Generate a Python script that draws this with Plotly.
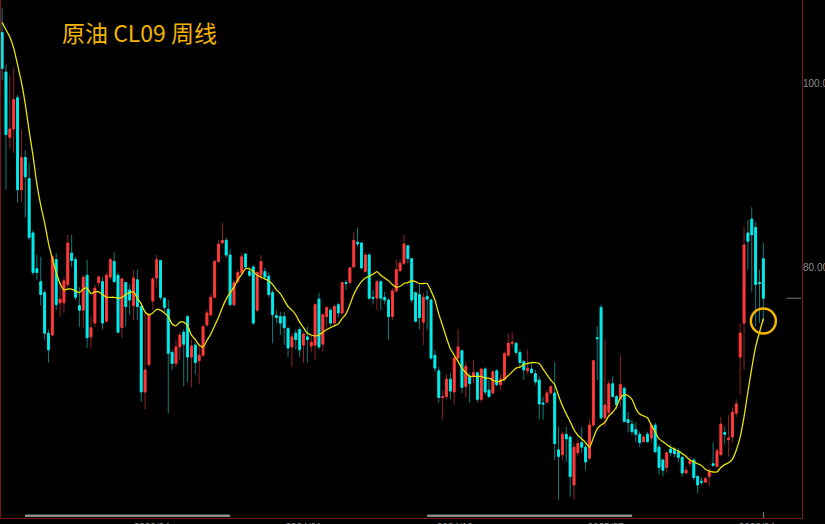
import pandas as pd
import plotly.graph_objects as go

# weekly bars, CL09 continuous
dates = pd.date_range("2022-07-04", periods=198, freq="7D")

opens = [
    105.6, 101.3, 94.2, 95.1, 98.5, 88.5, 92.0, 89.7, 83.8, 79.9,
    78.5, 77.3, 72.9, 72.7, 80.9, 76.2, 76.2, 78.2, 81.6, 80.9,
    75.9, 75.4, 79.2, 72.5, 74.0, 78.4, 78.5, 74.2, 79.0, 80.7,
    79.2, 73.5, 78.4, 77.6, 75.9, 78.7, 75.8, 66.5, 69.5, 76.4,
    78.9, 80.8, 76.7, 75.5, 70.8, 69.6, 71.4, 73.0, 74.7, 70.3,
    71.6, 69.9, 70.5, 73.8, 74.9, 76.8, 80.7, 82.7, 83.0, 81.4,
    76.0, 78.5, 79.5, 81.5, 79.6, 80.1, 75.4, 79.2, 79.6, 79.1,
    77.3, 74.8, 74.7, 74.7, 73.4, 71.4, 72.9, 73.3, 71.6, 72.5,
    71.5, 71.6, 76.6, 71.7, 74.7, 75.4, 74.0, 76.0, 75.1, 78.4,
    78.4, 80.1, 82.8, 82.7, 79.6, 81.4, 76.8, 76.7, 78.5, 76.8,
    76.5, 74.7, 77.5, 79.7, 80.5, 82.4, 81.0, 77.3, 77.1, 74.1,
    76.9, 76.5, 70.5, 68.8, 65.9, 66.0, 67.9, 66.5, 70.2, 71.0,
    67.1, 68.2, 68.2, 68.6, 65.7, 69.0, 66.7, 66.4, 68.8, 67.3,
    67.9, 70.5, 71.8, 71.8, 70.8, 69.8, 68.8, 69.0, 68.5, 67.8,
    65.3, 65.4, 66.4, 66.4, 60.2, 59.7, 61.9, 61.6, 56.4, 59.9,
    61.0, 60.5, 59.3, 62.9, 72.4, 75.7, 63.7, 64.3, 67.4, 66.0,
    65.7, 66.9, 63.5, 63.0, 62.4, 61.9, 61.1, 61.9, 61.5, 62.9,
    60.5, 59.1, 58.3, 60.3, 60.3, 60.0, 59.4, 57.7, 58.7, 59.1,
    57.3, 56.8, 56.7, 57.3, 58.7, 58.4, 59.7, 62.1, 61.3, 61.6,
    64.2, 70.3, 74.0, 83.8, 85.3, 84.4, 78.4, 81.0,
]
highs = [
    108.3, 102.1, 101.0, 101.8, 98.8, 95.0, 92.8, 91.4, 84.1, 81.4,
    81.2, 77.6, 73.3, 81.4, 81.6, 78.4, 79.0, 83.6, 83.6, 81.2,
    77.9, 79.2, 80.9, 74.7, 78.2, 79.2, 79.0, 79.5, 81.1, 81.7,
    79.5, 79.0, 78.5, 78.2, 79.8, 79.8, 76.2, 75.1, 75.1, 79.0,
    81.4, 80.9, 76.8, 76.5, 71.1, 72.2, 73.0, 73.3, 74.9, 72.2,
    71.8, 71.8, 73.8, 75.4, 77.1, 80.9, 83.0, 84.9, 83.3, 82.0,
    78.7, 79.8, 81.6, 81.6, 80.1, 80.3, 79.6, 81.4, 80.0, 79.5,
    77.6, 75.4, 75.2, 75.2, 73.6, 72.9, 73.3, 73.6, 73.0, 73.6,
    72.7, 76.2, 77.3, 75.1, 75.8, 75.6, 76.0, 76.2, 78.5, 78.7,
    80.1, 83.9, 84.4, 82.8, 81.6, 81.6, 77.6, 78.7, 78.7, 77.4,
    76.7, 77.8, 80.9, 80.9, 83.6, 82.5, 81.1, 77.4, 78.2, 77.3,
    77.6, 76.7, 71.1, 69.2, 66.7, 68.4, 68.6, 70.5, 73.3, 71.1,
    69.8, 68.6, 70.0, 68.7, 69.1, 69.2, 67.8, 68.9, 69.0, 68.4,
    70.9, 72.9, 73.0, 71.9, 71.1, 70.0, 71.1, 69.8, 68.9, 68.2,
    66.0, 66.7, 67.2, 69.7, 62.7, 62.2, 62.7, 61.8, 61.0, 61.3,
    62.7, 61.0, 63.5, 70.0, 73.6, 76.0, 72.2, 67.8, 68.2, 66.2,
    70.5, 67.1, 64.3, 63.5, 63.2, 62.2, 61.8, 62.2, 63.2, 63.2,
    60.8, 59.3, 60.0, 60.8, 60.5, 60.4, 59.5, 58.4, 59.5, 59.3,
    57.5, 57.2, 57.3, 58.3, 61.0, 60.4, 63.8, 62.7, 64.0, 64.8,
    65.7, 74.0, 84.5, 85.2, 86.6, 85.0, 79.8, 82.7,
]
lows = [
    100.4, 88.5, 93.0, 92.5, 87.1, 87.2, 85.5, 83.0, 79.2, 78.7,
    75.9, 72.2, 69.7, 72.5, 75.4, 74.7, 75.1, 77.9, 80.1, 76.5,
    73.6, 73.5, 71.3, 71.3, 73.6, 77.9, 73.3, 74.1, 78.7, 78.4,
    72.9, 72.4, 73.6, 74.9, 74.3, 74.3, 65.4, 64.6, 69.2, 75.4,
    77.9, 76.5, 75.2, 64.2, 68.9, 69.2, 70.0, 67.1, 67.6, 67.0,
    68.4, 67.3, 70.3, 73.6, 74.7, 76.7, 80.5, 82.7, 81.1, 75.8,
    75.8, 78.4, 79.2, 79.8, 79.0, 73.8, 75.2, 78.7, 78.7, 76.8,
    71.8, 74.0, 72.7, 71.6, 70.3, 69.2, 71.1, 70.3, 69.7, 69.7,
    70.8, 70.0, 71.1, 70.9, 73.6, 73.6, 73.6, 74.6, 74.9, 77.6,
    78.2, 80.0, 82.3, 79.8, 79.5, 76.5, 76.0, 75.4, 75.4, 76.0,
    72.2, 74.3, 77.3, 79.5, 80.3, 80.5, 76.2, 74.1, 73.3, 71.6,
    73.3, 70.0, 68.7, 65.3, 63.5, 65.7, 65.7, 65.1, 69.8, 66.4,
    65.9, 65.3, 67.5, 65.4, 65.4, 66.2, 65.9, 66.2, 67.1, 66.7,
    67.6, 70.3, 71.4, 70.5, 69.1, 67.8, 68.4, 68.5, 67.3, 63.5,
    63.5, 65.3, 66.2, 59.1, 54.8, 59.1, 58.9, 55.1, 54.8, 59.5,
    59.9, 58.0, 59.1, 62.7, 67.8, 63.5, 62.7, 63.8, 65.9, 64.6,
    64.9, 63.2, 62.1, 61.8, 61.0, 60.5, 61.0, 61.0, 61.0, 59.9,
    57.5, 57.3, 57.7, 59.5, 59.4, 58.9, 57.3, 57.5, 58.4, 56.9,
    55.5, 56.4, 56.6, 56.2, 58.4, 58.3, 59.5, 60.8, 59.5, 61.0,
    63.8, 66.2, 68.9, 79.8, 77.4, 73.6, 74.0, 74.1,
]
closes = [
    101.7, 94.5, 95.1, 98.3, 88.5, 92.0, 89.9, 83.3, 79.5, 79.5,
    77.1, 72.9, 71.1, 81.2, 76.0, 76.6, 78.6, 82.7, 80.8, 76.8,
    75.4, 79.0, 72.4, 73.5, 77.8, 79.0, 74.0, 79.2, 80.9, 78.5,
    73.0, 78.8, 75.8, 76.5, 78.9, 75.8, 66.5, 68.9, 74.9, 78.8,
    80.9, 76.8, 75.7, 70.7, 69.6, 71.4, 72.7, 71.7, 70.3, 71.5,
    69.7, 70.5, 73.6, 75.1, 76.8, 80.7, 82.6, 83.0, 81.4, 76.0,
    78.4, 79.5, 81.2, 80.1, 79.2, 74.0, 79.5, 80.7, 79.0, 77.1,
    74.9, 74.6, 74.0, 73.5, 71.3, 72.5, 72.2, 71.1, 72.8, 72.2,
    71.9, 76.0, 71.4, 74.9, 75.7, 74.0, 75.8, 75.1, 78.4, 78.3,
    80.0, 83.0, 82.6, 80.0, 81.4, 76.7, 76.7, 78.5, 76.7, 76.5,
    74.7, 77.5, 79.8, 80.5, 82.6, 81.0, 76.5, 74.2, 74.6, 76.8,
    76.6, 70.2, 69.1, 65.9, 66.0, 67.9, 66.6, 70.2, 71.4, 67.0,
    69.3, 67.4, 68.6, 65.7, 69.0, 66.5, 66.0, 68.7, 67.3, 67.9,
    70.7, 71.8, 71.9, 70.8, 69.7, 68.9, 69.1, 68.6, 67.6, 65.2,
    65.2, 66.4, 67.1, 60.9, 59.5, 61.9, 61.4, 57.3, 60.5, 60.9,
    60.5, 58.9, 62.9, 69.9, 72.3, 63.7, 65.1, 67.4, 66.0, 65.1,
    67.3, 63.3, 63.2, 62.2, 61.9, 61.0, 61.6, 61.1, 62.9, 60.0,
    58.3, 58.0, 59.9, 59.9, 59.8, 59.4, 57.7, 58.0, 59.0, 57.2,
    56.4, 56.7, 57.1, 57.8, 58.5, 60.1, 63.0, 61.9, 61.5, 64.3,
    65.2, 72.9, 82.5, 82.9, 83.6, 78.2, 78.3, 76.7,
]
# yellow moving-average line as drawn on the chart
ma_line = [
    106.7, 105.9, 105.1, 103.9, 102.1, 100.2, 97.8, 94.9, 92.2, 89.1,
    86.8, 84.9, 82.7, 81.0, 79.5, 78.3, 77.6, 77.7, 77.7, 77.5,
    77.3, 77.7, 77.8, 77.2, 77.4, 77.4, 77.1, 76.8, 76.8, 76.8,
    76.7, 76.8, 77.1, 77.3, 77.4, 76.7, 76.1, 75.2, 74.9, 75.1,
    75.5, 75.4, 75.1, 74.7, 73.9, 73.7, 74.1, 74.1, 73.7, 72.7,
    72.2, 71.6, 71.4, 72.1, 72.8, 73.7, 74.6, 75.7, 76.6, 77.3,
    77.9, 78.7, 79.3, 79.9, 79.9, 79.6, 79.2, 79.0, 78.8, 78.6,
    78.2, 77.6, 77.2, 76.5, 75.8, 75.4, 74.9, 74.1, 73.5, 72.9,
    72.7, 72.6, 72.7, 73.0, 73.3, 73.5, 73.7, 73.9, 74.5, 75.0,
    76.0, 77.1, 77.9, 78.5, 78.9, 79.1, 79.3, 79.6, 79.2, 78.9,
    78.6, 78.2, 77.9, 78.0, 78.3, 78.4, 78.6, 78.5, 78.3, 78.3,
    78.3, 77.5, 76.5, 75.0, 73.7, 72.4, 71.2, 70.5, 69.8, 69.1,
    68.6, 68.2, 68.2, 68.2, 68.2, 68.0, 68.0, 67.8, 67.6, 67.7,
    67.9, 68.3, 68.7, 69.1, 69.2, 69.5, 69.6, 69.7, 69.7, 69.6,
    69.0, 68.4, 67.8, 67.3, 66.1, 65.0, 64.1, 63.3, 62.4, 61.8,
    61.4, 61.0, 60.5, 61.5, 62.5, 62.9, 63.2, 63.9, 64.3, 64.9,
    65.9, 66.2, 66.1, 65.7, 64.7, 64.1, 63.9, 63.7, 62.9, 62.2,
    61.4, 61.1, 60.8, 60.5, 60.3, 60.1, 59.8, 59.5, 59.1, 58.9,
    58.7, 58.5, 58.1, 57.9, 57.8, 57.8, 58.3, 58.6, 58.8, 59.2,
    60.2, 61.6, 63.8, 66.5, 69.1, 71.4, 73.0, 74.5,
]

UP = '#ff3b3b'
DOWN = '#00eeee'
UP_WICK = '#8e2222'
DOWN_WICK = '#127c7c'
BORDER = '#7a1818'
GREY = '#8a8a8a'

body_hi = [max(o, c) for o, c in zip(opens, closes)]
body_lo = [min(o, c) for o, c in zip(opens, closes)]

fig = go.Figure()

# wicks (dim colour)
fig.add_trace(go.Candlestick(
    x=dates, open=opens, high=highs, low=lows, close=closes,
    increasing=dict(line=dict(color=UP_WICK, width=1), fillcolor=UP_WICK),
    decreasing=dict(line=dict(color=DOWN_WICK, width=1), fillcolor=DOWN_WICK),
    hoverinfo='skip', showlegend=False
))

# bodies (bright colour)
fig.add_trace(go.Candlestick(
    x=dates, open=opens, high=body_hi, low=body_lo, close=closes,
    increasing=dict(line=dict(color=UP, width=0.8), fillcolor=UP),
    decreasing=dict(line=dict(color=DOWN, width=0.8), fillcolor=DOWN),
    hoverinfo='skip', showlegend=False
))

fig.add_trace(go.Scatter(
    x=dates, y=ma_line, mode='lines',
    line=dict(color='#e8e400', width=1.3, shape='spline', smoothing=0.6),
    hoverinfo='skip', showlegend=False
))

shapes = [
    # circle marking the latest MA value
    dict(type='circle', xref='x', yref='y', xsizemode='pixel', ysizemode='pixel',
         xanchor=dates[-1], yanchor=ma_line[-1],
         x0=-12.5, x1=12.5, y0=-15, y1=10,
         line=dict(color='#f2b400', width=2.5)),
    # last price marker on the price scale
    dict(type='line', xref='paper', yref='y', x0=0.981, x1=0.999,
         y0=closes[-1], y1=closes[-1], line=dict(color='#7c7c7c', width=1)),
    # scroll bar segments
    dict(type='line', xref='paper', yref='paper', x0=0.030, x1=0.286, y0=0.0045, y1=0.0045,
         line=dict(color='#8c8c8c', width=2.5)),
    dict(type='line', xref='paper', yref='paper', x0=0.532, x1=0.788, y0=0.0045, y1=0.0045,
         line=dict(color='#8c8c8c', width=2.5)),
    dict(type='line', xref='x', yref='paper', x0=dates[-1], x1=dates[-1], y0=0, y1=0.012,
         line=dict(color='#8c8c8c', width=1)),
]

fig.update_layout(
    width=825,
    height=524,
    margin=dict(l=1, r=23, t=0, b=6, pad=0),
    paper_bgcolor='black',
    plot_bgcolor='black',
    template='none',
    showlegend=False,
    shapes=shapes,
    annotations=[dict(
        text='原油 CL09 周线', xref='paper', yref='paper', x=0.0737, y=0.938,
        xanchor='left', yanchor='middle', showarrow=False,
        font=dict(family='Noto Sans CJK SC', size=23, color='#f2b400')
    )],
    xaxis=dict(
        type='date', range=['2022-07-02', '2026-06-22'],
        rangeslider=dict(visible=False),
        tick0='2023-04-01', dtick='M9', tickformat='%Y/%m',
        tickfont=dict(family='Liberation Sans', size=10, color=GREY),
        showgrid=False, zeroline=False, ticks='',
        showline=True, linecolor=BORDER, linewidth=1, automargin=False
    ),
    yaxis=dict(
        side='right', range=[52.8, 109.13],
        tickvals=[80, 100], ticktext=['80.00', '100.00'],
        tickfont=dict(family='Liberation Sans', size=10, color=GREY),
        showgrid=False, zeroline=False, ticks='', ticklabelstandoff=-2,
        showline=True, mirror=True, linecolor=BORDER, linewidth=1, automargin=False
    ),
)

# drop the browser's default page margin so the chart sits at the top-left corner
fig.write_html(
    "out.html",
    config={'displayModeBar': False},
    post_script="document.body.style.margin='0';document.body.style.background='black';"
)
